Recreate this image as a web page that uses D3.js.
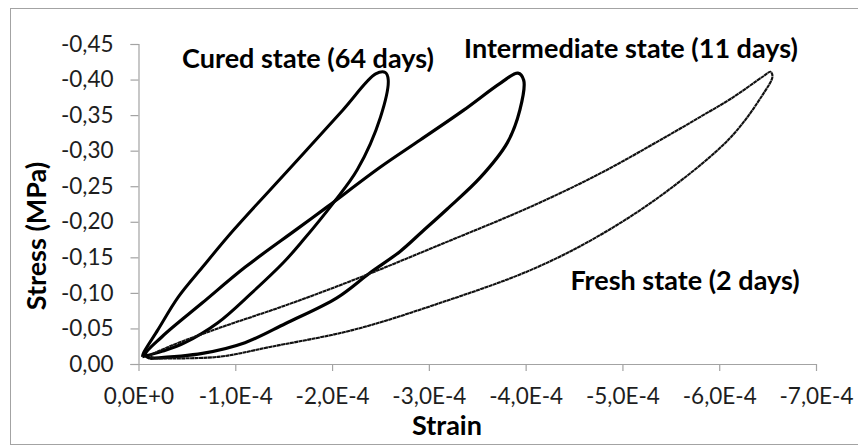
<!DOCTYPE html>
<html>
<head>
<meta charset="utf-8">
<script src="https://cdn.jsdelivr.net/npm/d3@7"></script>
<style>
  body { margin: 0; background: #fff; }
  svg { display: block; font-family: Lato, "Open Sans", sans-serif; }
</style>
</head>
<body>
<svg id="chart" width="858" height="446"></svg>
<script>
// strain values in units of 1E-4, stress in MPa (compression, so negative)
// each loop: loading branch from the tip up to the peak, then unloading back down
const curedStrain = [-0.04, -0.25, -0.48, -0.82, -1.17, -1.50, -1.70, -2.01, -2.26, -2.50, -2.58, -2.55,
  -2.45, -2.11, -1.57, -0.98, -0.66, -0.41, -0.20, -0.05, -0.04];
const curedStress = [-0.010, -0.018, -0.030, -0.058, -0.100, -0.143, -0.174, -0.226, -0.273, -0.347, -0.400, -0.410,
  -0.408, -0.357, -0.276, -0.188, -0.136, -0.094, -0.048, -0.015, -0.010];

const interStrain = [-0.12, -0.66, -1.10, -1.52, -2.05, -2.39, -2.70, -2.93, -3.19, -3.53, -3.81, -3.94, -3.98, -3.92,
  -3.74, -3.36, -2.91, -2.50, -1.95, -1.64, -1.10, -0.66, -0.24, -0.07, -0.12];
const interStress = [-0.008, -0.015, -0.030, -0.057, -0.093, -0.128, -0.158, -0.186, -0.218, -0.262, -0.311, -0.357, -0.399, -0.409,
  -0.395, -0.357, -0.315, -0.277, -0.221, -0.190, -0.136, -0.086, -0.038, -0.013, -0.008];

const freshStrain = [-0.17, -0.82, -1.36, -2.22, -3.12, -4.05, -4.74, -5.43, -6.12, -6.46, -6.55, -6.53,
  -6.46, -6.12, -5.81, -5.43, -4.77, -4.05, -3.12, -2.22, -1.51, -0.82, -0.31, -0.12, -0.17];
const freshStress = [-0.008, -0.010, -0.024, -0.048, -0.086, -0.132, -0.179, -0.240, -0.319, -0.381, -0.404, -0.411,
  -0.405, -0.373, -0.348, -0.318, -0.268, -0.221, -0.168, -0.118, -0.082, -0.050, -0.024, -0.011, -0.008];

const seriesNames = ["Cured state (64 days)", "Intermediate state (11 days)", "Fresh state (2 days)"];

const xTickValues = [0, -1e-4, -2e-4, -3e-4, -4e-4, -5e-4, -6e-4, -7e-4];
const yTickValues = [0, -0.05, -0.10, -0.15, -0.20, -0.25, -0.30, -0.35, -0.40, -0.45];

const margin = { top: 44, right: 42, bottom: 82, left: 138.5 };
const width = 858, height = 446;

const svg = d3.select("#chart");

const locale = d3.formatLocale({ decimal: ",", thousands: ".", grouping: [3], currency: ["", ""], minus: "-" });
const fmt2 = locale.format(".2f");
const fmt1 = locale.format(".1f");
const fmtStrain = (v) => (v === 0 ? "0,0E+0" : fmt1(v / 1e-4) + "E-4");

const x = d3.scaleLinear()
  .domain([0, -7e-4])
  .range([margin.left, width - margin.right]);

const y = d3.scaleLinear()
  .domain([0, -0.45])
  .range([height - margin.bottom, margin.top]);

// chart border
svg.append("rect")
  .attr("x", 10.5)
  .attr("y", 8.5)
  .attr("width", 860)
  .attr("height", 436)
  .attr("fill", "none")
  .attr("stroke", "#a3a3a3");

// axes
const xAxis = svg.append("g")
  .attr("transform", `translate(0,${y(0)})`)
  .call(d3.axisBottom(x).tickValues(xTickValues).tickFormat(fmtStrain).tickSize(7).tickPadding(17));

const yAxis = svg.append("g")
  .attr("transform", `translate(${x(0)},0)`)
  .call(d3.axisLeft(y).tickValues(yTickValues).tickFormat(fmt2).tickSize(8).tickPadding(17));

[xAxis, yAxis].forEach((g) => {
  g.select(".domain").attr("stroke", "#a3a3a3").attr("stroke-width", 1.2);
  g.selectAll(".tick line").attr("stroke", "#a3a3a3").attr("stroke-width", 1.2);
  g.selectAll(".tick text")
    .style("font-family", "Lato, sans-serif")
    .style("font-size", "22.5px")
    .attr("fill", "#1e1e1e");
});
xAxis.select(".domain").attr("d", `M${x(0) - 8},0.5H${x(-7e-4)}`);

// loops
const toPoints = (xs, ys) => xs.map((v, i) => [v * 1e-4, ys[i]]);
const line = d3.line()
  .x((d) => x(d[0]))
  .y((d) => y(d[1]))
  .curve(d3.curveCatmullRom.alpha(0.5));

const loops = [
  { name: seriesNames[0], pts: toPoints(curedStrain, curedStress), w: 3, dash: null, color: "#000" },
  { name: seriesNames[1], pts: toPoints(interStrain, interStress), w: 3.2, dash: null, color: "#000" },
  { name: seriesNames[2], pts: toPoints(freshStrain, freshStress), w: 2.1, dash: "4 0.4", color: "#111" },
];

svg.selectAll("path.loop")
  .data(loops)
  .enter()
  .append("path")
  .attr("class", "loop")
  .attr("d", (d) => line(d.pts))
  .attr("fill", "none")
  .attr("stroke", (d) => d.color)
  .attr("stroke-width", (d) => d.w)
  .attr("stroke-linejoin", "round")
  .attr("stroke-dasharray", (d) => d.dash);

// series labels
const labelPos = [
  { cx: 308, cy: 68 },
  { cx: 631, cy: 58 },
  { cx: 685, cy: 290 },
];
svg.selectAll("text.series-label")
  .data(seriesNames)
  .enter()
  .append("text")
  .attr("class", "series-label")
  .attr("x", (d, i) => labelPos[i].cx)
  .attr("y", (d, i) => labelPos[i].cy)
  .attr("text-anchor", "middle")
  .style("font-size", "27px")
  .style("font-weight", "700")
  .attr("fill", "#000")
  .text((d) => d);

// axis titles
svg.append("text")
  .attr("x", 447)
  .attr("y", 435)
  .attr("text-anchor", "middle")
  .style("font-size", "27px")
  .style("font-weight", "700")
  .text("Strain");

svg.append("text")
  .attr("transform", "translate(46,236) rotate(-90)")
  .attr("text-anchor", "middle")
  .style("font-size", "27px")
  .style("font-weight", "700")
  .text("Stress (MPa)");
</script>
</body>
</html>
